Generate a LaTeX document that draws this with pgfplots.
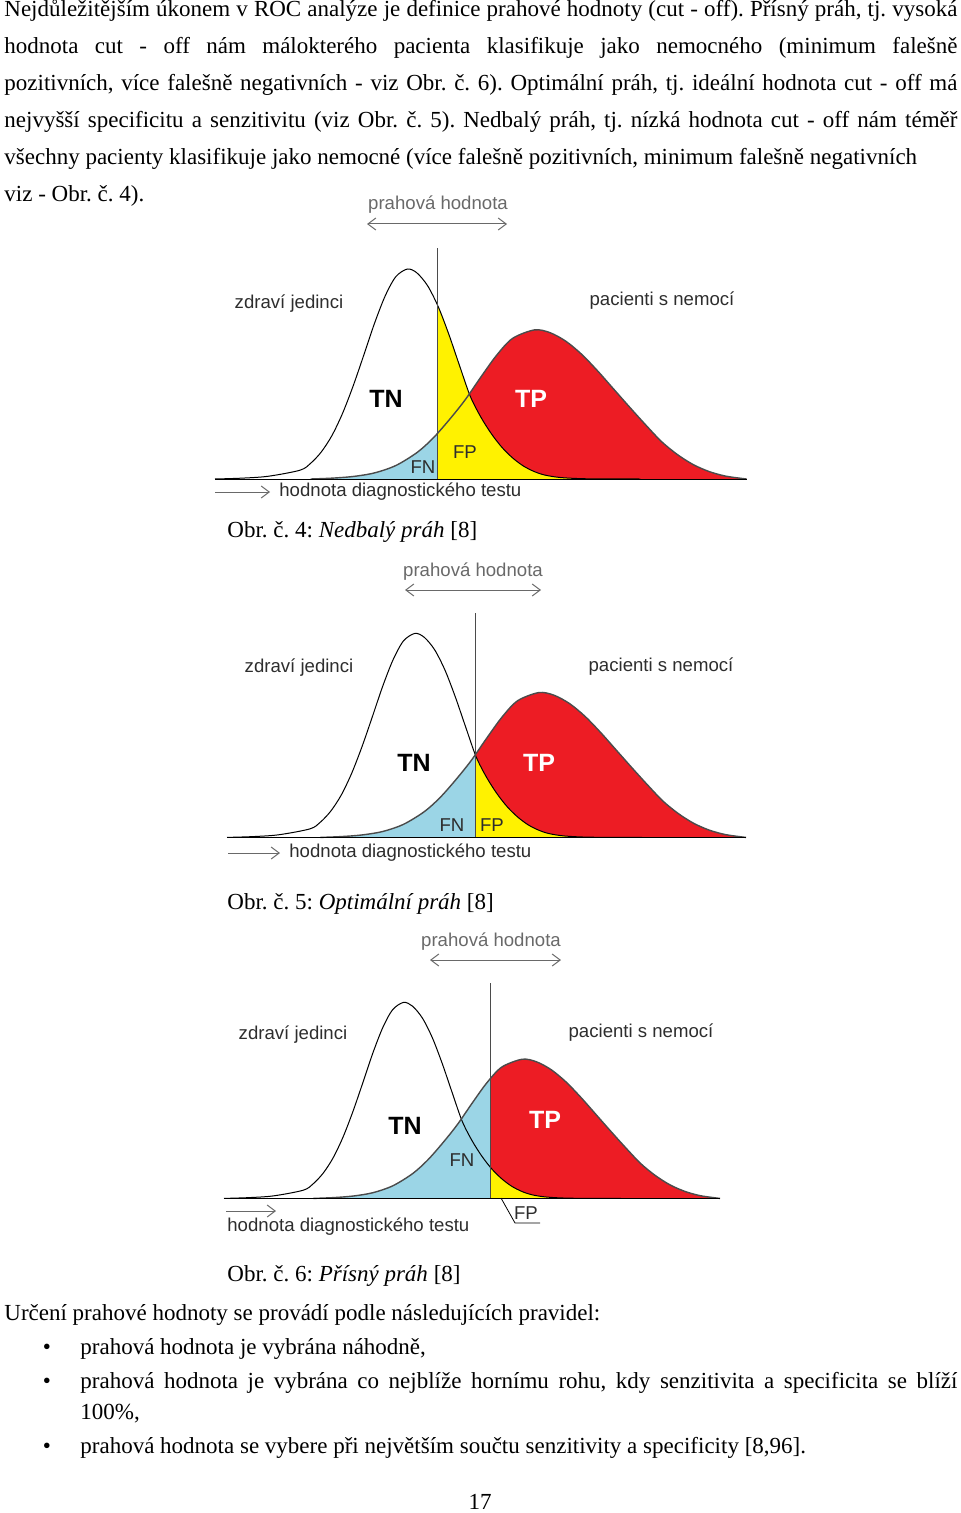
\documentclass[border=0pt]{standalone}
\usepackage{fontspec}
\setmainfont{Liberation Serif}
\newfontfamily\arial{Liberation Sans}
\usepackage{pgfplots}
\pgfplotsset{compat=1.18}
\usepackage{pgfplotstable}
\usepgfplotslibrary{fillbetween}
\usetikzlibrary{arrows.meta}
\frenchspacing

\definecolor{rocred}{RGB}{237,28,36}
\definecolor{rocyellow}{RGB}{255,242,0}
\definecolor{rocblue}{RGB}{155,213,230}
\definecolor{lbl}{RGB}{45,45,45}
\definecolor{arr}{RGB}{105,105,105}
\definecolor{edge}{RGB}{75,75,75}

% healthy subjects: x in % of the baseline, y in % of its peak
\pgfplotstableread{
x y
0 0
5 0.4
10 1.3
16 4.2
18 7.5
20 12.9
22 20.7
24 31.3
26 44.4
28 59.1
30 74.1
32 87.1
34 96.3
36.2 100
38 98.1
40 92.0
42 82.0
44 68.8
46 54.0
48 39.5
50 29.5
52 21.5
54 15.0
56 10.0
58 6.2
60 3.6
62 1.9
65 0.7
70 0.1
80 0
}\healthy

% patients with the disease
\pgfplotstableread{
x y
18 0
22 0.4
26 1.2
30 2.9
34 6.4
38 12.6
41 19.4
44 28.0
47 37.5
50 48.5
53 59.0
56 67.0
60.1 71.0
63 69.7
66 65.6
69 59.3
72 51.4
75 42.8
78 34.2
81 25.8
84 17.8
87 11.6
90 6.8
93 3.5
96 1.4
99 0.3
100 0
}\disease

% #1 position, #2 width, #3 height, #4 threshold
\newcommand{\roc}[4]{%
\begin{axis}[at={#1}, anchor=south west, width=#2, height=#3, scale only axis,
  xmin=0, xmax=100, ymin=0, ymax=100, hide axis, clip=false]
  \addplot[draw=none, name path=base, forget plot] coordinates {(0,0) (100,0)};
  \addplot[name path=H, black, line width=0.5pt, smooth] table {\healthy};
  \addplot[name path=D, edge, line width=0.7pt, smooth] table {\disease};
  \addplot[rocred] fill between[of=D and base, soft clip={domain=#4:100}];
  \addplot[rocyellow] fill between[of=H and base, soft clip={domain=#4:100}];
  \addplot[rocblue] fill between[of=D and base, soft clip={domain=0:#4}];
  \addplot[black, line width=0.5pt] coordinates {(0,0) (100,0)};
  \addplot[edge, line width=0.5pt] coordinates {(#4,0) (#4,110)};
\end{axis}}

\begin{document}
\begin{tikzpicture}[>={Straight Barb[length=4pt, width=6pt]}]
\path (0,0) rectangle (480pt,-756.5pt);

\roc{(107.5pt,-239.5pt)}{265.8pt}{105pt}{41.9}
\roc{(113.5pt,-418.7pt)}{259.5pt}{102pt}{47.8}
\roc{(112pt,-599.2pt)}{248pt}{98pt}{53.8}

\begin{scope}[x=0.5pt, y=-0.5pt,
  body/.style={anchor=base west, inner sep=0pt, font=\fontsize{11.5}{13}\selectfont},
  lab/.style={inner sep=0pt, text=lbl, font=\arial\fontsize{9.3}{11}\selectfont},
  big/.style={inner sep=0pt, font=\arial\bfseries\fontsize{12.5}{14}\selectfont},
  arrs/.style={arr, line width=0.5pt}]

% text above the figures
\node[body] at (4,17) {\makebox[476.5pt][s]{Nejdůležitějším úkonem v ROC analýze je definice prahové hodnoty (cut - off). Přísný práh, tj. vysoká}};
\node[body] at (4,54) {\makebox[476.5pt][s]{hodnota cut - off nám málokterého pacienta klasifikuje jako nemocného (minimum falešně}};
\node[body] at (4,91) {\makebox[476.5pt][s]{pozitivních, více falešně negativních - viz Obr. č. 6). Optimální práh, tj. ideální hodnota cut - off má}};
\node[body] at (4,128) {\makebox[476.5pt][s]{nejvyšší specificitu a senzitivitu (viz Obr. č. 5). Nedbalý práh, tj. nízká hodnota cut - off nám téměř}};
\node[body] at (4,165) {všechny pacienty klasifikuje jako nemocné (více falešně pozitivních, minimum falešně negativních};
\node[body] at (4,202) {viz - Obr. č. 4).};

% figure 4
\node[lab, text=arr] at (438,205) {prahová hodnota};
\draw[arrs, <->] (367,224) -- (507,224);
\node[lab] at (289,304) {zdraví jedinci};
\node[lab] at (662,301) {pacienti s nemocí};
\node[big] at (386,399) {TN};
\node[big, white] at (531,399) {TP};
\node[lab] at (465,452) {FP};
\node[lab] at (423,467) {FN};
\draw[arrs, ->] (215,492) -- (270,492);
\node[lab, anchor=west] at (279,492) {hodnota diagnostického testu};
\node[body] at (227,537) {Obr. č. 4: \textit{Nedbalý práh} [8]};

% figure 5
\node[lab, text=arr] at (473,572) {prahová hodnota};
\draw[arrs, <->] (405,590) -- (541,590);
\node[lab] at (299,668) {zdraví jedinci};
\node[lab] at (661,667) {pacienti s nemocí};
\node[big] at (414,763) {TN};
\node[big, white] at (539,763) {TP};
\node[lab] at (452,825) {FN};
\node[lab] at (492,825) {FP};
\draw[arrs, ->] (228,853) -- (280,853);
\node[lab, anchor=west] at (289,853) {hodnota diagnostického testu};
\node[body] at (227,909) {Obr. č. 5: \textit{Optimální práh} [8]};

% figure 6
\node[lab, text=arr] at (491,942) {prahová hodnota};
\draw[arrs, <->] (430,960) -- (561,960);
\node[lab] at (293,1035) {zdraví jedinci};
\node[lab] at (641,1033) {pacienti s nemocí};
\node[big] at (405,1126) {TN};
\node[big, white] at (545,1120) {TP};
\node[lab] at (462,1160) {FN};
\draw[black, line width=0.4pt] (501,1198) -- (515,1223) -- (540,1223);
\node[lab] at (526,1213) {FP};
\draw[arrs, ->] (226,1211) -- (276,1211);
\node[lab, anchor=west] at (227,1227) {hodnota diagnostického testu};
\node[body] at (227,1281) {Obr. č. 6: \textit{Přísný práh} [8]};

% text below the figures
\node[body] at (4,1320) {Určení prahové hodnoty se provádí podle následujících pravidel:};
\node[body, anchor=base] at (47,1354) {\textbullet};
\node[body] at (80,1354) {prahová hodnota je vybrána náhodně,};
\node[body, anchor=base] at (47,1388) {\textbullet};
\node[body] at (80,1388) {\makebox[438.5pt][s]{prahová hodnota je vybrána co nejblíže hornímu rohu, kdy senzitivita a specificita se blíží}};
\node[body] at (80,1419) {100\%,};
\node[body, anchor=base] at (47,1453) {\textbullet};
\node[body] at (80,1453) {prahová hodnota se vybere při největším součtu senzitivity a specificity [8,96].};
\node[body, anchor=base] at (480,1509) {17};
\end{scope}
\end{tikzpicture}
\end{document}
